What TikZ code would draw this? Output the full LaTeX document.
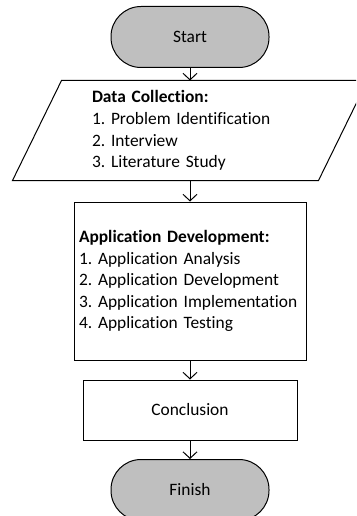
\documentclass[tikz,border=0pt]{standalone}
\usepackage{fontspec}
\setmainfont{Carlito}[Ligatures=NoCommon]
\usetikzlibrary{arrows.meta}
\frenchspacing
\tikzset{
  base/.style={font=\fontsize{17.4}{21.6}\selectfont, line width=1pt},
  term/.style={base, draw, fill=gray!50, rounded corners=30pt, minimum width=158pt, minimum height=61pt, inner sep=0pt},
  proc/.style={base, draw, inner sep=0pt},
  flow/.style={line width=1pt, -{Straight Barb[length=6.5pt,width=14pt,line width=1pt]}}
}
\begin{document}
\begin{tikzpicture}[x=1pt,y=-1pt]
\useasboundingbox (0,0) rectangle (356,516);
\clip (0,0) rectangle (356,516);
\node[term] (start) at (190,37) {Start};
\node[base, minimum width=256pt, minimum height=99pt, inner xsep=30pt, inner ysep=0pt, text width=196pt, align=left] (dc) at (190,130.5)
  {\textbf{Data Collection:}\\1. Problem Identification\\2. Interview\\3. Literature Study};
\draw[line width=1pt] (dc.north west) -- ([xshift=49pt]dc.north east) -- (dc.south east) -- ([xshift=-49pt]dc.south west) -- cycle;
\node[proc, minimum width=232pt, minimum height=158pt, inner xsep=5pt, text width=222pt, align=left] (app) at (190,281)
  {\textbf{Application Development:}\\1. Application Analysis\\2. Application Development\\3. Application Implementation\\4. Application Testing};
\node[proc, minimum width=214pt, minimum height=60pt] (conc) at (190,410) {Conclusion};
\node[term] (finish) at (190,490) {Finish};
\draw[flow] (start) -- (dc);
\draw[flow] (dc) -- (app);
\draw[flow] (app) -- (conc);
\draw[flow] (conc) -- (finish);
\end{tikzpicture}
\end{document}
